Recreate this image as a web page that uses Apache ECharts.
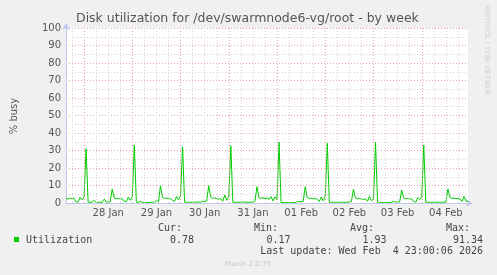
<!DOCTYPE html>
<html>
<head>
<meta charset="utf-8">
<script src="https://cdn.jsdelivr.net/npm/echarts@6/dist/echarts.min.js"></script>
<style>
html,body{margin:0;padding:0;background:#f0f0f0;}
#chart{width:497px;height:275px;}
</style>
</head>
<body>
<div id="chart"></div>
<script>
// Hours are counted from 28 Jan 00:00; one value per hour.
const startHour = -9;   // 27 Jan 15:00
const endHour = 191;    // 04 Feb 23:00
const jan27 = [2.6, 2.2, 2.8, 2.3, 2.7, 0.6, 0.5, 3.2, 1.8];
const jan28 = [3.5, 31.0, 0.5, 0.4, 0.5, 1.5, 0.4, 0.4, 0.4, 0.4, 2.3, 0.5, 0.5, 0.6, 8.0, 2.8, 2.5, 2.6, 2.3, 2.4, 1.0, 0.8, 3.4, 1.5];
const jan29 = [3.8, 33.1, 0.5, 0.4, 1.0, 0.4, 0.3, 0.3, 0.3, 0.4, 0.4, 0.5, 1.5, 0.6, 9.9, 3.2, 2.6, 2.8, 2.4, 2.5, 1.5, 0.9, 3.8, 1.8];
const jan30 = [4.5, 32.2, 0.5, 0.4, 0.4, 0.4, 0.4, 0.5, 0.5, 0.6, 0.5, 1.0, 0.9, 1.2, 9.9, 3.4, 2.6, 2.8, 2.5, 2.2, 2.4, 1.0, 4.6, 1.5];
const jan31 = [3.5, 32.7, 0.5, 0.4, 0.4, 0.4, 0.5, 0.5, 0.6, 0.3, 0.4, 0.6, 0.5, 1.0, 9.3, 3.0, 2.7, 2.9, 2.6, 2.8, 2.0, 3.6, 1.2, 3.6];
const feb01 = [2.0, 34.7, 0.3, 0.2, 0.2, 0.2, 0.2, 0.2, 0.2, 0.2, 0.8, 0.8, 0.9, 0.9, 9.3, 3.2, 2.6, 2.7, 2.4, 2.5, 2.2, 0.9, 3.5, 1.2];
const feb02 = [3.8, 34.1, 0.5, 0.4, 0.4, 0.4, 0.4, 0.4, 0.4, 0.5, 0.4, 0.5, 0.6, 0.8, 7.8, 3.0, 2.4, 2.6, 2.3, 2.0, 2.4, 1.0, 3.8, 1.2];
const feb03 = [2.5, 34.7, 0.4, 0.3, 0.3, 0.3, 0.3, 0.3, 0.3, 0.5, 1.0, 0.5, 0.5, 0.6, 7.4, 3.0, 2.4, 2.6, 2.2, 2.4, 0.8, 0.5, 3.0, 2.0];
const feb04 = [3.4, 33.1, 0.4, 0.4, 0.4, 0.4, 0.4, 0.4, 0.4, 0.4, 0.4, 0.5, 0.5, 8.0, 3.2, 2.6, 2.8, 2.5, 2.6, 2.3, 0.9, 3.8, 1.0, 0.8];

const dayLabels = ['28 Jan', '29 Jan', '30 Jan', '31 Jan', '01 Feb', '02 Feb', '03 Feb', '04 Feb'];
const yTicks = [0, 10, 20, 30, 40, 50, 60, 70, 80, 90, 100];

const title = 'Disk utilization for /dev/swarmnode6-vg/root - by week';
const yName = '% busy';
const seriesName = 'Utilization';
const statHeads = ['Cur:', 'Min:', 'Avg:', 'Max:'];
const statValues = ['0.78', '0.17', '1.93', '91.34'];
const lastUpdate = 'Last update: Wed Feb  4 23:00:06 2026';
const footer = 'Munin 2.0.75';
const sideText = 'RRDTOOL / TOBI OETIKER';

const values = [].concat(jan27, jan28, jan29, jan30, jan31, feb01, feb02, feb03, feb04);
const data = values.map((v, i) => [startHour + i, v]);

const labelPos = dayLabels.map((_, i) => 12 + 24 * i);
const labelMap = {};
labelPos.forEach((p, i) => { labelMap[p] = dayLabels[i]; });

// vertical grid: every 6 h, red at midnight
const vLines = [];
for (let h = -6; h < endHour; h += 6) {
  const major = (h % 24 === 0);
  vLines.push({
    xAxis: h,
    lineStyle: { color: major ? '#e8a4a4' : '#d2d2d2', type: [1, 2], width: 1 }
  });
}

const axisColor = '#c3c8ef';
const mono = '"DejaVu Sans Mono", monospace';
const sans = '"DejaVu Sans", sans-serif';

const chart = echarts.init(document.getElementById('chart'), null, { renderer: 'canvas' });
const g = [];
g.push({ type: 'text', x: 76, y: 19, style: { text: title, fill: '#555', fontSize: 12.5, fontFamily: sans, textVerticalAlign: 'middle' } });
g.push({ type: 'text', x: 14, y: 116, rotation: Math.PI / 2, style: { text: yName, fill: '#555', fontSize: 10, fontFamily: sans, textAlign: 'center', textVerticalAlign: 'middle' } });
g.push({ type: 'text', x: 487, y: 5, rotation: -Math.PI / 2, style: { text: sideText, fill: '#cfcfcf', fontSize: 7, fontFamily: sans, textAlign: 'left', textVerticalAlign: 'middle' } });
g.push({ type: 'rect', shape: { x: 14, y: 237, width: 5, height: 5 }, style: { fill: '#00cc00' } });
g.push({ type: 'text', x: 26, y: 240, style: { text: seriesName, fill: '#444', fontSize: 10, fontFamily: mono, textVerticalAlign: 'middle' } });
const headX = [158, 254, 350, 446];
const valX = [194, 290.5, 386.5, 483];
statHeads.forEach((t, i) => {
  g.push({ type: 'text', x: headX[i], y: 228, style: { text: t, fill: '#444', fontSize: 10, fontFamily: mono, textVerticalAlign: 'middle' } });
  g.push({ type: 'text', x: valX[i], y: 240, style: { text: statValues[i], fill: '#444', fontSize: 10, fontFamily: mono, textAlign: 'right', textVerticalAlign: 'middle' } });
});
g.push({ type: 'text', x: 483, y: 251.5, style: { text: lastUpdate, fill: '#444', fontSize: 10, fontFamily: mono, textAlign: 'right', textVerticalAlign: 'middle' } });
g.push({ type: 'text', x: 248, y: 264.5, style: { text: footer, fill: '#c8c8c8', fontSize: 7, fontFamily: sans, textAlign: 'center', textVerticalAlign: 'middle' } });

chart.setOption({
  animation: false,
  backgroundColor: '#f0f0f0',
  grid: { left: 66, right: 29, top: 28, bottom: 72, show: true, backgroundColor: '#ffffff', borderWidth: 0 },
  xAxis: {
    type: 'value', min: startHour, max: endHour,
    axisLine: { show: true, onZero: false, lineStyle: { color: axisColor, width: 1 }, symbol: ['none', 'arrow'], symbolSize: [6, 7], symbolOffset: [0, 5] },
    axisTick: { show: false },
    splitLine: { show: false },
    axisLabel: {
      customValues: labelPos,
      formatter: (v) => labelMap[v] || '',
      color: '#555', fontSize: 10, fontFamily: sans, margin: 5
    }
  },
  yAxis: {
    type: 'value', min: 0, max: 100, interval: 10,
    axisLine: { show: true, onZero: false, lineStyle: { color: axisColor, width: 1 }, symbol: ['none', 'arrow'], symbolSize: [6, 7], symbolOffset: [0, 5] },
    axisTick: { show: false },
    axisLabel: { color: '#555', fontSize: 10, fontFamily: sans, margin: 5,
      formatter: (v) => (yTicks.indexOf(v) >= 0 ? String(v) : '') },
    splitLine: { show: true, lineStyle: { color: '#e8a4a4', type: [1, 2], width: 1 } },
    minorTick: { show: false, splitNumber: 2 },
    minorSplitLine: { show: true, lineStyle: { color: '#d2d2d2', type: [1, 2], width: 1 } }
  },
  series: [
    {
      type: 'line', data: [], z: 1, silent: true,
      markLine: { silent: true, symbol: ['none', 'none'], label: { show: false }, data: vLines, animation: false }
    },
    {
      name: seriesName, type: 'line', data: data, z: 3,
      showSymbol: false, symbol: 'none', smooth: false,
      lineStyle: { color: '#00cc00', width: 1 }, itemStyle: { color: '#00cc00' }
    }
  ],
  graphic: g
});
</script>
</body>
</html>
